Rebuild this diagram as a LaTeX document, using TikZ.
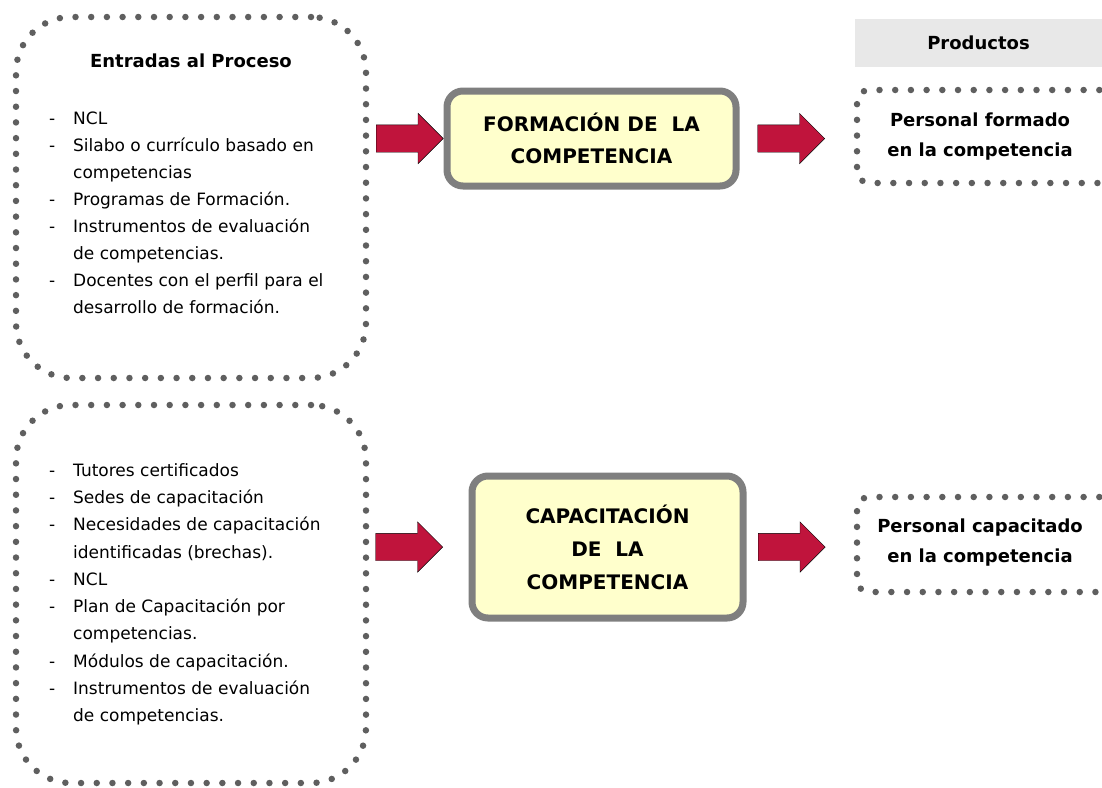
\documentclass[tikz,border=0pt]{standalone}
\usepackage{fontspec}
\setmainfont{DejaVu Sans}
\usetikzlibrary{shapes.arrows,positioning}
\definecolor{rojoflecha}{HTML}{C0143C}
\definecolor{amarillo}{HTML}{FFFFCC}
\definecolor{grisborde}{HTML}{7F7F7F}
\definecolor{grispunto}{HTML}{5F5F5F}
\definecolor{grisfondo}{HTML}{E8E8E8}
\tikzstyle{punteado}=[draw=grispunto, line width=6.5pt, line cap=round, dash pattern=on 0pt off 15.7pt]
\tikzstyle{entrada}=[punteado, rounded corners=55pt, inner sep=0pt, minimum width=350pt]
\tikzstyle{producto}=[punteado, rounded corners=12pt, inner sep=0pt, minimum width=270pt]
\tikzstyle{proceso}=[draw=grisborde, line width=7pt, fill=amarillo, rounded corners=16pt, align=center, inner sep=0pt]
\tikzstyle{flecha}=[single arrow, draw=black, thin, fill=rojoflecha, minimum height=67pt, minimum width=50pt, single arrow head extend=11.5pt, inner xsep=0pt, inner ysep=13.5pt]
\tikzstyle{lista}=[anchor=north west, align=left, inner sep=0pt, font=\fontsize{17}{27}\selectfont]
\tikzstyle{titulo}=[align=center, font=\fontsize{18}{30}\selectfont\bfseries]
\newcommand{\guion}{\makebox[24pt][l]{-}}
\newcommand{\sangria}{\hspace*{24pt}}

\begin{document}
\begin{tikzpicture}[x=1pt, y=-1pt]
        \clip (0,0) rectangle (1102,787);

        % Entradas
        \node[entrada, minimum height=361pt] (ent1) at (191,197.5) {};
        \node[titulo] (tit1) at (191,61) {Entradas al Proceso};
        \node[lista] (lis1) at (49,112) {\guion NCL\\
            \guion Silabo o currículo basado en\\
            \sangria competencias\\
            \guion Programas de Formación.\\
            \guion Instrumentos de evaluación\\
            \sangria de competencias.\\
            \guion Docentes con el perfil para el\\
            \sangria desarrollo de formación.};

        \node[entrada, minimum height=378pt] (ent2) at (191,594) {};
        \node[lista, font=\fontsize{17}{27.3}\selectfont] (lis2) at (49,463) {\guion Tutores certificados\\
            \guion Sedes de capacitación\\
            \guion Necesidades de capacitación\\
            \sangria identificadas (brechas).\\
            \guion NCL\\
            \guion Plan de Capacitación por\\
            \sangria competencias.\\
            \guion Módulos de capacitación.\\
            \guion Instrumentos de evaluación\\
            \sangria de competencias.};

        % Procesos
        \node[proceso, minimum width=289pt, minimum height=95pt, font=\fontsize{20}{32}\selectfont\bfseries] (form) at (591.5,138.5) {FORMACIÓN DE\ \ LA\\COMPETENCIA};
        \node[proceso, minimum width=271pt, minimum height=142pt, font=\fontsize{20}{33}\selectfont\bfseries] (capa) at (607.5,547) {CAPACITACIÓN\\DE\ \ LA\\COMPETENCIA};

        % Productos
        \node[fill=grisfondo, minimum width=247pt, minimum height=48pt, font=\fontsize{18}{22}\selectfont\bfseries] (prod) at (978.5,43) {Productos};
        \node[producto, minimum height=93pt] (per1) at (992,136.5) {};
        \node[titulo] (txt1) at (980,137) {Personal formado\\en la competencia};
        \node[producto, minimum height=95pt] (per2) at (992,544.5) {};
        \node[titulo] (txt2) at (980,542.5) {Personal capacitado\\en la competencia};

        % Flechas
        \node[flecha, left=0pt of form] (fl1) {};
        \node[flecha, right=18pt of form] (fl2) {};
        \node[flecha, left=25.5pt of capa] (fl3) {};
        \node[flecha, right=11.5pt of capa] (fl4) {};
    \end{tikzpicture}
\end{document}
